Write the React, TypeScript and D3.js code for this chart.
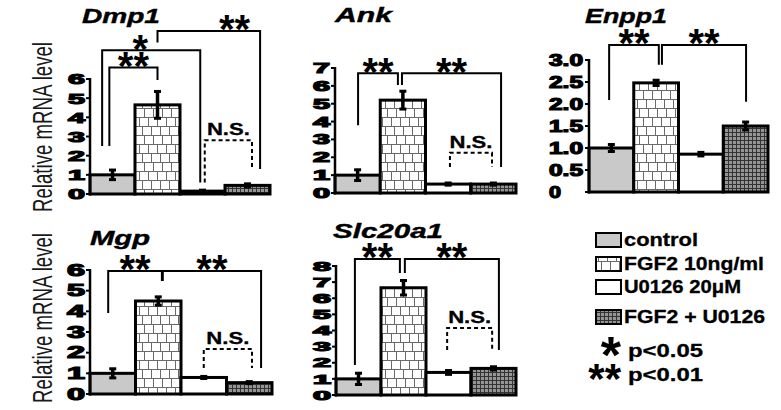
import { useEffect, useRef } from "react";
import * as d3 from "d3";

// treatment groups (bar order and legend)
const groups = ["control", "FGF2 10ng/ml", "U0126 20μM", "FGF2 + U0126"];

// relative mRNA level, mean and error per gene
const dmp1Mean = [1.0, 4.65, 0.15, 0.45];
const dmp1Err = [0.25, 0.7, 0.05, 0.08];
const ankMean = [1.0, 5.2, 0.5, 0.5];
const ankErr = [0.3, 0.5, 0.06, 0.06];
const enpp1Mean = [1.0, 2.48, 0.86, 1.5];
const enpp1Err = [0.08, 0.06, 0.04, 0.09];
const mgpMean = [1.0, 4.5, 0.8, 0.55];
const mgpErr = [0.22, 0.2, 0.05, 0.05];
const slcMean = [1.0, 6.65, 1.4, 1.65];
const slcErr = [0.35, 0.45, 0.12, 0.1];

// tick labels
const dmp1Ticks = ["0", "1", "2", "3", "4", "5", "6"];
const ankTicks = ["0", "1", "2", "3", "4", "5", "6", "7"];
const enpp1Ticks = ["0", "0.5", "1.0", "1.5", "2.0", "2.5", "3.0"];
const mgpTicks = ["0", "1", "2", "3", "4", "5", "6"];
const slcTicks = ["0", "1", "2", "3", "4", "5", "6", "7", "8"];

const legendNotes = ["p<0.05", "p<0.01"];

type Bracket = {
  a: [number, number]; aEnd: number;
  b: [number, number]; bEnd: number;
  top: number; label: string; at?: number; dashed?: boolean;
};

const panels = [
  {
    title: "Dmp1", mean: dmp1Mean, err: dmp1Err, ticks: dmp1Ticks, max: 6,
    x0: 90, x1: 270, y0: 194, y1: 79, tx: 82, ty: 23, tw: 78, fs: 15, dw: 17, anchorEnd: true,
    brackets: [
      { a: [0, 0.43], aEnd: 2.5, b: [1, 0.5], bEnd: 5.95, top: 6.6, label: "**" },
      { a: [0, 0.27], aEnd: 2.5, b: [2, 0.45], bEnd: 0.6, top: 7.5, label: "*", at: 0.39 },
      { a: [1, 0.5], aEnd: 7.9, b: [3, 0.78], bEnd: 1.3, top: 8.5, label: "**", at: 0.75 },
      { a: [2, 0.55], aEnd: 0.6, b: [3, 0.6], bEnd: 1.3, top: 2.8, label: "N.S.", dashed: true },
    ] as Bracket[],
  },
  {
    title: "Ank", mean: ankMean, err: ankErr, ticks: ankTicks, max: 7,
    x0: 335, x1: 516, y0: 193, y1: 68, tx: 335, ty: 22, tw: 57, fs: 14, dw: 17, anchorEnd: true,
    brackets: [
      { a: [0, 0.51], aEnd: 3.8, b: [1, 0.39], bEnd: 6.05, top: 6.7, label: "**" },
      { a: [1, 0.48], aEnd: 6.05, b: [3, 0.67], bEnd: 1.45, top: 6.7, label: "**" },
      { a: [2, 0.54], aEnd: 1.45, b: [3, 0.47], bEnd: 1.45, top: 2.25, label: "N.S.", dashed: true },
    ] as Bracket[],
  },
  {
    title: "Enpp1", mean: enpp1Mean, err: enpp1Err, ticks: enpp1Ticks, max: 3,
    x0: 589, x1: 768, y0: 192, y1: 60, tx: 585, ty: 23, tw: 82, fs: 16, dw: 12, anchorEnd: false,
    brackets: [
      { a: [0, 0.45], aEnd: 2.09, b: [1, 0.56], bEnd: 2.89, top: 3.34, label: "**" },
      { a: [1, 0.63], aEnd: 2.89, b: [3, 0.51], bEnd: 2.05, top: 3.34, label: "**" },
    ] as Bracket[],
  },
  {
    title: "Mgp", mean: mgpMean, err: mgpErr, ticks: mgpTicks, max: 6,
    x0: 90, x1: 272, y0: 394, y1: 270, tx: 90, ty: 245, tw: 60, fs: 16, dw: 18, anchorEnd: true,
    brackets: [
      { a: [0, 0.4], aEnd: 3.92, b: [1, 0.58], bEnd: 5.47, top: 5.95, label: "**" },
      { a: [1, 0.6], aEnd: 5.47, b: [3, 0.76], bEnd: 1.26, top: 5.95, label: "**" },
      { a: [2, 0.5], aEnd: 1.26, b: [3, 0.56], bEnd: 1.26, top: 2.18, label: "N.S.", dashed: true },
    ] as Bracket[],
  },
  {
    title: "Slc20a1", mean: slcMean, err: slcErr, ticks: slcTicks, max: 8,
    x0: 336, x1: 516, y0: 395, y1: 266, tx: 333, ty: 238, tw: 110, fs: 13, dw: 18, anchorEnd: true,
    brackets: [
      { a: [0, 0.42], aEnd: 1.86, b: [1, 0.42], bEnd: 7.57, top: 8.43, label: "**" },
      { a: [1, 0.53], aEnd: 7.57, b: [3, 0.62], bEnd: 2.79, top: 8.43, label: "**" },
      { a: [2, 0.47], aEnd: 2.79, b: [3, 0.47], bEnd: 2.79, top: 4.16, label: "N.S.", dashed: true },
    ] as Bracket[],
  },
];

const fills = ["#c9c9c9", "url(#pat-fgf)", "#ffffff", "url(#pat-mix)"];
const ARIAL = "'Liberation Sans', Arial, sans-serif";

const App = () => {
  const svgRef = useRef<SVGSVGElement>(null);

  useEffect(() => {
    const svg = d3.select(svgRef.current);
    svg.selectAll("*").remove();

    // patterns
    const defs = svg.append("defs");
    const pf = defs.append("pattern").attr("id", "pat-fgf")
      .attr("patternUnits", "userSpaceOnUse").attr("width", 27).attr("height", 27);
    pf.append("rect").attr("width", 27).attr("height", 27).attr("fill", "#fff");
    const brick = [[0, 9, 18], [4, 13, 22], [7, 16, 25]];
    brick.forEach((xs, r) => {
      pf.append("line").attr("x1", 0).attr("x2", 27).attr("y1", r * 9 + 0.5).attr("y2", r * 9 + 0.5)
        .attr("stroke", "#6a6a6a").attr("stroke-width", 1);
      xs.forEach(xv => {
        pf.append("line").attr("x1", xv + 0.5).attr("x2", xv + 0.5).attr("y1", r * 9).attr("y2", r * 9 + 9)
          .attr("stroke", "#6a6a6a").attr("stroke-width", 1);
      });
    });
    const pm = defs.append("pattern").attr("id", "pat-mix")
      .attr("patternUnits", "userSpaceOnUse").attr("width", 4).attr("height", 4);
    pm.append("rect").attr("width", 4).attr("height", 4).attr("fill", "#959595");
    pm.append("path").attr("d", "M0,0.5H4M0.5,0V4").attr("stroke", "#333").attr("stroke-width", 1);

    // y labels
    [127, 318].forEach(cy => {
      svg.append("text")
        .attr("transform", `translate(52,${cy}) rotate(-90)`)
        .attr("text-anchor", "middle")
        .attr("textLength", 170).attr("lengthAdjust", "spacingAndGlyphs")
        .style("font-family", ARIAL).style("font-size", "28px").style("fill", "#1a1a1a")
        .text("Relative mRNA level");
    });

    panels.forEach(p => {
      const g = svg.append("g");
      const x = d3.scaleBand().domain(groups).range([p.x0, p.x1]).padding(0);
      const y = d3.scaleLinear().domain([0, p.max]).range([p.y0, p.y1]);
      const bw = x.bandwidth();
      const px = (k: [number, number]) => (x(groups[k[0]]) as number) + k[1] * bw;

      // title
      g.append("text")
        .attr("x", p.tx).attr("y", p.ty)
        .attr("textLength", p.tw).attr("lengthAdjust", "spacingAndGlyphs")
        .style("font-family", ARIAL).style("font-weight", "bold").style("font-style", "italic")
        .style("font-size", "20px").style("fill", "#000")
        .style("stroke", "#000").style("stroke-width", 0.4)
        .text(p.title);

      // bars
      g.selectAll(".bar").data(groups).enter().append("rect")
        .attr("x", d => x(d) as number)
        .attr("y", (d, i) => y(p.mean[i]))
        .attr("width", bw)
        .attr("height", (d, i) => y(0) - y(p.mean[i]))
        .attr("fill", (d, i) => fills[i])
        .attr("stroke", "#000").attr("stroke-width", 3);

      // error bars
      groups.forEach((d, i) => {
        const cx = (x(d) as number) + bw / 2;
        const lo = y(p.mean[i] - p.err[i]);
        const hi = y(p.mean[i] + p.err[i]);
        g.append("line").attr("x1", cx).attr("x2", cx).attr("y1", lo).attr("y2", hi)
          .attr("stroke", "#000").attr("stroke-width", 3.5);
        [lo, hi].forEach(yy => {
          g.append("line").attr("x1", cx - 3.5).attr("x2", cx + 3.5).attr("y1", yy).attr("y2", yy)
            .attr("stroke", "#000").attr("stroke-width", 3);
        });
      });

      // axis
      g.append("line").attr("x1", p.x0).attr("x2", p.x0).attr("y1", y(p.max) - 1).attr("y2", y(0) + 1.5)
        .attr("stroke", "#000").attr("stroke-width", 2.5);
      p.ticks.forEach(t => {
        const v = +t;
        g.append("line").attr("x1", p.x0 - 4).attr("x2", p.x0).attr("y1", y(v)).attr("y2", y(v))
          .attr("stroke", "#000").attr("stroke-width", 2);
        const w = t.split("").reduce((s, c) => s + (c === "." ? 10 : p.dw), 0);
        g.append("text")
          .attr("x", p.anchorEnd ? p.x0 - 5 : p.x0 - 40)
          .attr("y", y(v) + p.fs * 0.36)
          .attr("text-anchor", p.anchorEnd ? "end" : "start")
          .attr("textLength", w).attr("lengthAdjust", "spacingAndGlyphs")
          .style("font-family", ARIAL).style("font-weight", "bold")
          .style("font-size", `${p.fs}px`).style("fill", "#000")
          .style("stroke", "#000").style("stroke-width", 1.2)
          .text(t);
      });

      // significance brackets
      p.brackets.forEach(b => {
        const xa = px(b.a), xb = px(b.b), yt = y(b.top);
        g.append("path")
          .attr("d", `M${xa},${y(b.aEnd)}V${yt}H${xb}V${y(b.bEnd)}`)
          .attr("fill", "none").attr("stroke", "#000").attr("stroke-width", 2)
          .attr("stroke-dasharray", b.dashed ? "4,3" : null);
        const lx = xa + (b.at ?? 0.5) * (xb - xa);
        if (b.dashed) {
          g.append("text").attr("x", lx).attr("y", yt - 5).attr("text-anchor", "middle")
            .attr("textLength", 43).attr("lengthAdjust", "spacingAndGlyphs")
            .style("font-family", ARIAL).style("font-weight", "bold").style("font-size", "17px")
            .style("stroke", "#000").style("stroke-width", 0.3)
            .text(b.label);
        } else {
          g.append("text").attr("x", lx).attr("y", yt + 0.36 * 40 - 2).attr("text-anchor", "middle")
            .style("font-family", ARIAL).style("font-weight", "bold").style("font-size", "40px")
            .text(b.label);
        }
      });
    });

    // legend
    const legRows = [233, 257, 280, 310];
    const legWidths = [74, 140, 117, 141];
    groups.forEach((d, i) => {
      svg.append("rect").attr("x", 596).attr("y", legRows[i]).attr("width", 25).attr("height", 14)
        .attr("fill", fills[i]).attr("stroke", "#000").attr("stroke-width", 2);
      svg.append("text").attr("x", 624).attr("y", legRows[i] + 13)
        .attr("textLength", legWidths[i]).attr("lengthAdjust", "spacingAndGlyphs")
        .style("font-family", ARIAL).style("font-weight", "bold").style("font-size", "18px")
        .style("stroke", "#000").style("stroke-width", 0.3)
        .text(d);
    });
    const noteStars = ["*", "**"];
    const noteY = [357, 381];
    const starFs = [52, 42];
    legendNotes.forEach((n, i) => {
      svg.append("text").attr("x", 621).attr("y", noteY[i] - 6 + 0.42 * starFs[i])
        .attr("text-anchor", "end")
        .style("font-family", ARIAL).style("font-weight", "bold").style("font-size", `${starFs[i]}px`)
        .text(noteStars[i]);
      svg.append("text").attr("x", 628).attr("y", noteY[i])
        .attr("textLength", 75).attr("lengthAdjust", "spacingAndGlyphs")
        .style("font-family", ARIAL).style("font-weight", "bold").style("font-size", "19px")
        .style("stroke", "#000").style("stroke-width", 0.3)
        .text(n);
    });
  }, []);

  return (
    <svg ref={svgRef} width={781} height={410}
      style={{ position: "absolute", left: 0, top: 0, background: "#fff" }} />
  );
};

export default App;
